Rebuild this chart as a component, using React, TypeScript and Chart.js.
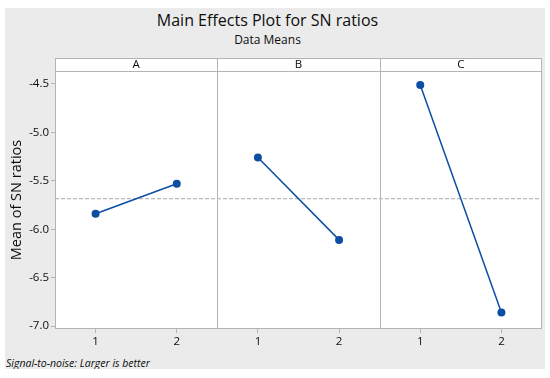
import React, { useEffect, useRef } from 'react';
import { Chart, registerables } from 'chart.js';

Chart.register(...registerables);

const factors = ['A', 'B', 'C'];
const levels = ['1', '2'];
const meansA = [-5.84, -5.53];
const meansB = [-5.26, -6.11];
const meansC = [-4.51, -6.86];
const yTicks = [-7.0, -6.5, -6.0, -5.5, -5.0, -4.5];

const FONT = '"Open Sans", "Noto Sans", sans-serif';
const BLUE = '#0b4ea2';
const FRAME = '#b4b4b4';
const INK = '#0d0d0d';

const allMeans = [meansA, meansB, meansC];
const grandMean =
  allMeans.flat().reduce((s, v) => s + v, 0) / allMeans.flat().length;

const panelPlugin = {
  id: 'panels',
  beforeDraw(chart: any) {
    const { ctx, chartArea: a } = chart;
    ctx.save();
    ctx.fillStyle = '#ffffff';
    ctx.fillRect(a.left, a.top, a.right - a.left, a.bottom - a.top);
    ctx.restore();
  },
  afterDraw(chart: any) {
    const { ctx, chartArea: a, scales } = chart;
    const xs = scales.x;
    const stripH = 13;
    const top = a.top - stripH;
    ctx.save();
    ctx.fillStyle = '#ffffff';
    ctx.fillRect(a.left, top, a.right - a.left, stripH);
    ctx.strokeStyle = FRAME;
    ctx.lineWidth = 1;
    const L = Math.round(a.left) + 0.5;
    const R = Math.round(a.right) - 0.5;
    const T = Math.round(top) + 0.5;
    const B = Math.round(a.bottom) - 0.5;
    const M = Math.round(a.top) + 0.5;
    ctx.strokeRect(L, T, R - L, B - T);
    ctx.beginPath();
    ctx.moveTo(L, M);
    ctx.lineTo(R, M);
    [2.5, 4.5].forEach((b) => {
      const px = Math.round(xs.getPixelForValue(b)) + 0.5;
      ctx.moveTo(px, T);
      ctx.lineTo(px, B);
    });
    ctx.stroke();
    ctx.fillStyle = INK;
    ctx.font = `500 11.5px ${FONT}`;
    ctx.textAlign = 'center';
    ctx.textBaseline = 'middle';
    factors.forEach((f, i) => {
      ctx.fillText(f, xs.getPixelForValue(i * 2 + 1.5), top + stripH / 2 + 0.5);
    });
    ctx.restore();
  },
};

export default function App() {
  const ref = useRef<HTMLCanvasElement>(null);

  useEffect(() => {
    if (!ref.current) return;
    const datasets: any[] = allMeans.map((vals, i) => ({
      label: factors[i],
      data: vals.map((v, j) => ({ x: i * 2 + j + 1, y: v })),
      borderColor: BLUE,
      backgroundColor: BLUE,
      borderWidth: 1.5,
      pointRadius: 4,
      pointHoverRadius: 4,
      pointBorderWidth: 0,
      showLine: true,
      tension: 0,
    }));
    datasets.push({
      label: 'mean',
      data: [
        { x: 0.5, y: grandMean },
        { x: 6.5, y: grandMean },
      ],
      borderColor: '#a8a8a8',
      borderWidth: 1,
      borderDash: [4, 2],
      pointRadius: 0,
      showLine: true,
    });

    const chart = new Chart(ref.current, {
      type: 'line',
      data: { datasets },
      plugins: [panelPlugin],
      options: {
        responsive: false,
        animation: false,
        events: [],
        layout: { padding: { left: 0, top: 71, right: 8, bottom: 0 } },
        plugins: {
          legend: { display: false },
          tooltip: { enabled: false },
          title: { display: false },
        },
        scales: {
          x: {
            type: 'linear',
            min: 0.5,
            max: 6.5,
            afterBuildTicks: (s: any) => {
              s.ticks = [1, 2, 3, 4, 5, 6].map((v) => ({ value: v }));
            },
            afterFit: (s: any) => {
              s.height = 49;
            },
            ticks: {
              autoSkip: false,
              maxRotation: 0,
              padding: 2,
              color: INK,
              font: { family: FONT, size: 11.5, weight: '500' },
              callback: (v: any) => levels[(Math.round(Number(v)) - 1) % 2],
            },
            grid: {
              drawOnChartArea: false,
              tickLength: 4,
              color: FRAME,
            },
            border: { display: false },
          },
          y: {
            type: 'linear',
            min: -7.03,
            max: -4.366,
            afterBuildTicks: (s: any) => {
              s.ticks = yTicks.map((v) => ({ value: v }));
            },
            afterFit: (s: any) => {
              s.width = 55;
            },
            ticks: {
              padding: 2,
              color: INK,
              font: { family: FONT, size: 11.5, weight: '500' },
              callback: (v: any) => Number(v).toFixed(1),
            },
            grid: {
              drawOnChartArea: false,
              tickLength: 4,
              color: FRAME,
            },
            border: { display: false },
            title: {
              display: true,
              text: 'Mean of SN ratios',
              color: INK,
              font: { family: FONT, size: 14.5, weight: '500' },
              padding: { top: 8, bottom: 0 },
            },
          },
        },
      },
    });
    return () => chart.destroy();
  }, []);

  return (
    <div
      style={{
        position: 'fixed',
        left: 0,
        top: 0,
        width: 550,
        height: 378,
        background: '#ffffff',
        overflow: 'hidden',
      }}
    >
      <div
        style={{
          position: 'absolute',
          left: 5,
          top: 8,
          width: 540,
          height: 361,
          background: '#ebebeb',
          overflow: 'hidden',
        }}
      >
        <div
          style={{
            position: 'absolute',
            left: 1,
            top: 350,
            whiteSpace: 'nowrap',
            fontFamily: FONT,
            fontStyle: 'italic',
            fontSize: 10.5,
            lineHeight: '10.5px',
            color: INK,
          }}
        >
          Signal-to-noise: Larger is better
        </div>
      </div>
      <div
        style={{
          position: 'absolute',
          left: 0,
          top: 10,
          width: 535,
          textAlign: 'center',
          fontFamily: FONT,
          fontSize: 16,
          fontWeight: 500,
          lineHeight: '20px',
          color: INK,
        }}
      >
        Main Effects Plot for SN ratios
      </div>
      <div
        style={{
          position: 'absolute',
          left: 0,
          top: 32,
          width: 535,
          textAlign: 'center',
          fontFamily: FONT,
          fontSize: 12,
          fontWeight: 500,
          lineHeight: '16px',
          color: INK,
        }}
      >
        Data Means
      </div>
      <canvas
        ref={ref}
        width={550}
        height={378}
        style={{ position: 'absolute', left: 0, top: 0, width: 550, height: 378 }}
      />
    </div>
  );
}
